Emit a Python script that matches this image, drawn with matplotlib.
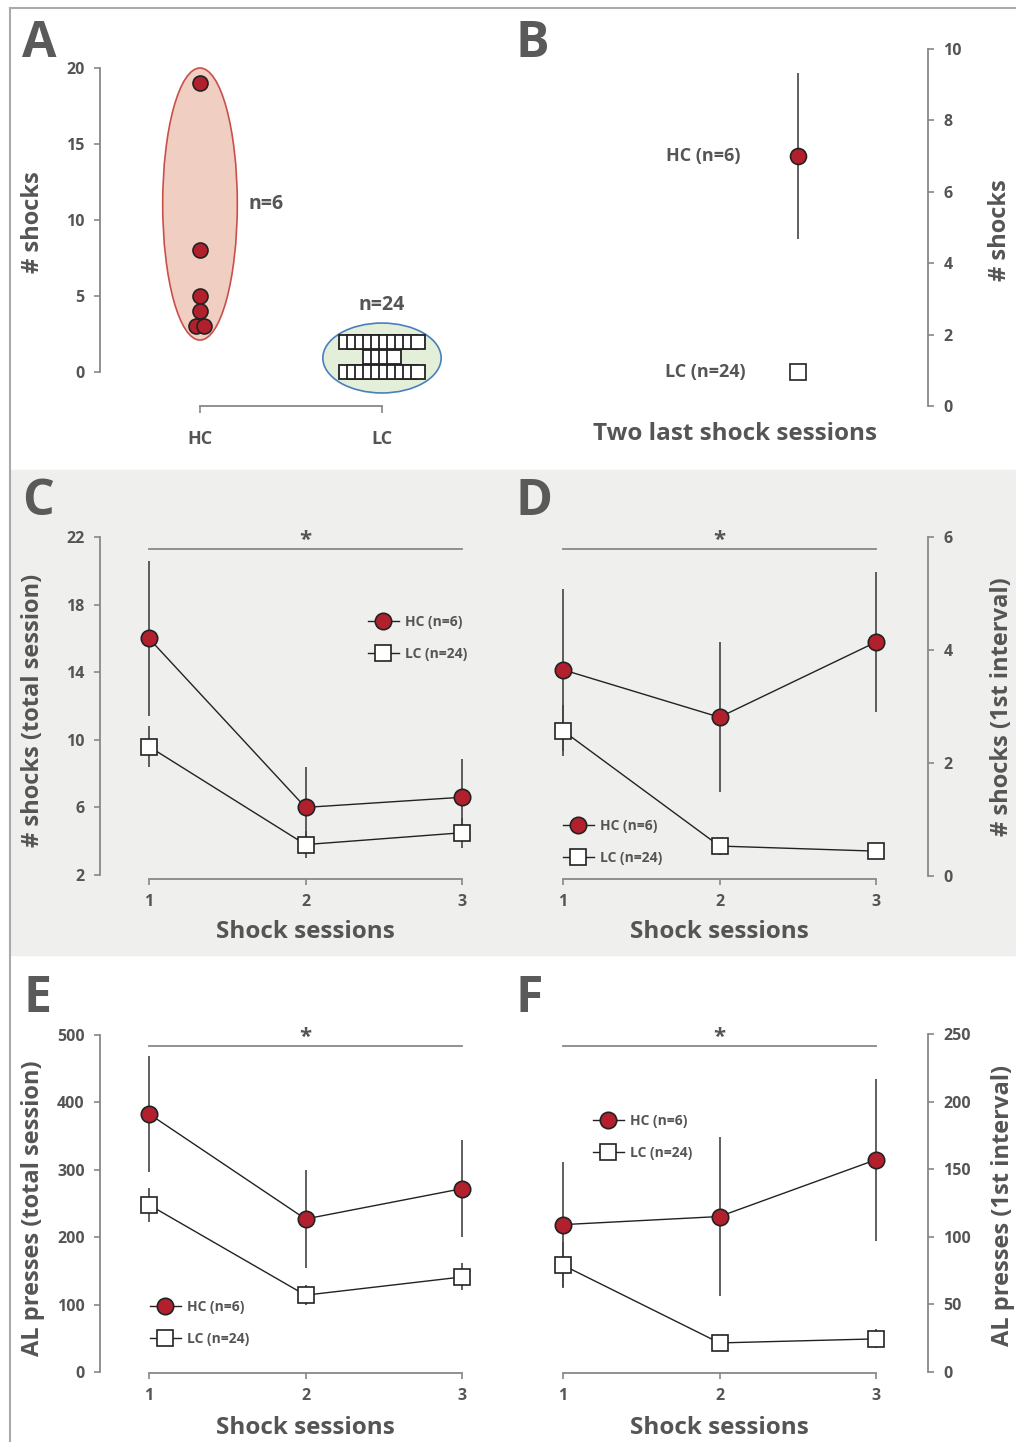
import matplotlib
matplotlib.use("Agg")
import matplotlib.pyplot as plt
import numpy as np
from matplotlib.patches import Ellipse, Rectangle
from matplotlib.lines import Line2D

plt.rcParams['font.family'] = ['Open Sans', 'DejaVu Sans']
plt.rcParams['font.weight'] = 'bold'

# ---- data ----
# A: individual animals, number of shocks
hc_shocks = [19, 8, 5, 4, 3, 3]
lc_shocks = [2, 2, 2, 2, 2, 2, 2, 2, 2, 2,
             1, 1, 1, 1,
             0, 0, 0, 0, 0, 0, 0, 0, 0, 0]

# B: two last shock sessions (mean, sem)
hc_last = 7.0
hc_last_err = 2.33
lc_last = 0.95
lc_last_err = 0.1

sessions = [1, 2, 3]
# C: shocks, total session
hc_tot_shocks = [16.0, 6.0, 6.6]
hc_tot_shocks_err = [4.6, 2.4, 2.25]
lc_tot_shocks = [9.6, 3.8, 4.5]
lc_tot_shocks_err = [1.2, 0.8, 0.9]
# D: shocks, 1st interval
hc_int_shocks = [3.65, 2.81, 4.14]
hc_int_shocks_err = [1.43, 1.33, 1.24]
lc_int_shocks = [2.57, 0.53, 0.44]
lc_int_shocks_err = [0.45, 0.15, 0.08]
# E: AL presses, total session
hc_tot_press = [383, 227, 272]
hc_tot_press_err = [86, 72, 72]
lc_tot_press = [248, 114, 141]
lc_tot_press_err = [25, 15, 20]
# F: AL presses, 1st interval
hc_int_press = [109, 115, 157]
hc_int_press_err = [46, 59, 60]
lc_int_press = [79, 21.5, 24.5]
lc_int_press_err = [17, 3, 7]

RED = '#b2202d'
TXT = '#555555'
AXC = '#888888'

W, H = 1016, 1442
fig = plt.figure(figsize=(W / 100, H / 100), dpi=100)

# grey band behind C and D, frame lines
fig.patches.append(Rectangle((10 / W, 1 - 955 / H), 1 - 10 / W, 485 / H,
                             transform=fig.transFigure, color='#efefed', zorder=-5))
fig.lines.append(Line2D([10 / W, 1], [1 - 8 / H, 1 - 8 / H], transform=fig.transFigure,
                        color='#aaaaaa', lw=1.5, zorder=-4))
fig.lines.append(Line2D([10 / W, 10 / W], [0, 1 - 8 / H], transform=fig.transFigure,
                        color='#aaaaaa', lw=1.5, zorder=-4))


def ftext(px, py, s, **kw):
    kw.setdefault('color', TXT)
    kw.setdefault('fontweight', 'bold')
    fig.text(px / W, 1 - py / H, s, **kw)


def add_ax(left, top, right, bottom, xcal, ycal):
    ax = fig.add_axes([left / W, 1 - bottom / H, (right - left) / W, (bottom - top) / H])
    pa, va, pb, vb = xcal
    s = (vb - va) / (pb - pa)
    ax.set_xlim(va + (left - pa) * s, va + (right - pa) * s)
    pa, va, pb, vb = ycal
    s = (vb - va) / (pb - pa)
    ax.set_ylim(va + (bottom - pa) * s, va + (top - pa) * s)
    ax.patch.set_visible(False)
    for sp in ax.spines.values():
        sp.set_color(AXC)
        sp.set_linewidth(1.3)
    ax.tick_params(direction='out', length=4, width=1.2, color=AXC,
                   labelcolor=TXT, labelsize=11.5, pad=7)
    return ax


def session_axes(ax, yside, ybounds, yticks):
    ax.spines['top'].set_visible(False)
    other = 'right' if yside == 'left' else 'left'
    ax.spines[other].set_visible(False)
    ax.spines[yside].set_bounds(*ybounds)
    ax.spines['bottom'].set_bounds(1, 3)
    ax.set_yticks(yticks)
    ax.set_xticks(sessions)
    ax.tick_params(axis='x', pad=7)
    if yside == 'right':
        ax.yaxis.tick_right()


def draw_groups(ax, hc, hc_err, lc, lc_err):
    ax.errorbar(sessions, hc, yerr=hc_err, fmt='none', ecolor='#444444',
                elinewidth=1.2, capsize=0, zorder=2, clip_on=False)
    ax.errorbar(sessions, lc, yerr=lc_err, fmt='none', ecolor='#444444',
                elinewidth=1.2, capsize=0, zorder=2, clip_on=False)
    h1, = ax.plot(sessions, hc, '-o', color='#222222', lw=1.0, ms=11.8,
                  mfc=RED, mec='#222222', mew=1.2, zorder=3, clip_on=False,
                  label='HC (n=6)')
    h2, = ax.plot(sessions, lc, '-s', color='#222222', lw=1.0, ms=11.8,
                  mfc='white', mec='#222222', mew=1.2, zorder=3, clip_on=False,
                  label='LC (n=24)')
    return h1, h2


def legend_at(ax, handles, px, py):
    ax.legend(handles=handles, loc='center left', frameon=False,
              bbox_to_anchor=(px / W, 1 - py / H), bbox_transform=fig.transFigure,
              borderpad=0, borderaxespad=0, handlelength=2.2, handletextpad=0.45,
              labelspacing=1.25, prop={'size': 10, 'weight': 'bold'}, labelcolor=TXT)


def sig_bar(ax, y):
    ax.plot([1, 3], [y, y], color=AXC, lw=1.3, clip_on=False)
    ax.annotate('*', xy=(2, y), xytext=(0, -2), textcoords='offset pixels',
                ha='center', va='bottom', fontsize=16, color=TXT)


# ---------------- A ----------------
axA = add_ax(100, 40, 480, 406, (200, 1, 382, 2), (372, 0, 68, 20))
axA.spines['top'].set_visible(False)
axA.spines['right'].set_visible(False)
axA.spines['left'].set_bounds(0, 20)
axA.spines['bottom'].set_bounds(1, 2)
axA.set_yticks([0, 5, 10, 15, 20])
axA.set_xticks([1, 2])
axA.set_xticklabels(['HC', 'LC'], fontsize=13)
axA.tick_params(axis='x', length=5, pad=12)

hc_lo, hc_hi = min(hc_shocks), max(hc_shocks)
axA.add_patch(Ellipse((1, (hc_lo + hc_hi) / 2 + 0.05), 0.41, hc_hi - hc_lo + 1.9,
                      facecolor='#f0cfc2', edgecolor='#c9504a', lw=1.2, zorder=1))
lc_lo, lc_hi = min(lc_shocks), max(lc_shocks)
axA.add_patch(Ellipse((2, (lc_lo + lc_hi) / 2 - 0.08), 0.65, lc_hi - lc_lo + 2.6,
                      facecolor='#e3efd8', edgecolor='#4a7fbf', lw=1.2, zorder=1))


def jitter(vals, center, step):
    vals = np.asarray(vals, dtype=float)
    xs = np.zeros_like(vals)
    for v in np.unique(vals):
        idx = np.where(vals == v)[0]
        xs[idx] = center + (np.arange(len(idx)) - (len(idx) - 1) / 2) * step
    return xs


axA.plot(jitter(hc_shocks, 1, 0.044), hc_shocks, 'o', ms=10.8, mfc=RED,
         mec='#222222', mew=1.2, zorder=3)
axA.plot(jitter(lc_shocks, 2, 0.044), lc_shocks, 's', ms=9.6, mfc='white',
         mec='#222222', mew=1.3, zorder=3)
axA.annotate('n=6', xy=(1, (hc_lo + hc_hi) / 2 + 0.05), xytext=(48, 0),
             textcoords='offset pixels', ha='left', va='center', fontsize=14, color=TXT)
axA.annotate('n=24', xy=(2, lc_hi + 1.2), xytext=(0, 18),
             textcoords='offset pixels', ha='center', va='center', fontsize=14, color=TXT)

# ---------------- B ----------------
axB = add_ax(560, 40, 928, 420, (798, 1, 898, 2), (406, 0, 49, 10))
for k in ['top', 'left', 'bottom']:
    axB.spines[k].set_visible(False)
axB.spines['right'].set_bounds(0, 10)
axB.yaxis.tick_right()
axB.set_yticks([0, 2, 4, 6, 8, 10])
axB.set_xticks([])
axB.errorbar([1], [hc_last], yerr=[hc_last_err], fmt='none', ecolor='#444444',
             elinewidth=1.2, capsize=0, zorder=2)
axB.plot([1], [hc_last], 'o', ms=11.5, mfc=RED, mec='#222222', mew=1.2, zorder=3)
axB.plot([1], [lc_last], 's', ms=11.5, mfc='white', mec='#222222', mew=1.2, zorder=3)
axB.annotate('HC (n=6)', xy=(1, hc_last), xytext=(-58, 0), textcoords='offset pixels',
             ha='right', va='center', fontsize=13, color=TXT)
axB.annotate('LC (n=24)', xy=(1, lc_last), xytext=(-52, 0), textcoords='offset pixels',
             ha='right', va='center', fontsize=13, color=TXT)

# ---------------- C ----------------
axC = add_ax(100, 530, 480, 879, (149, 1, 462, 3), (875, 2, 537, 22))
session_axes(axC, 'left', (2, 22), [2, 6, 10, 14, 18, 22])
hC = draw_groups(axC, hc_tot_shocks, hc_tot_shocks_err, lc_tot_shocks, lc_tot_shocks_err)
sig_bar(axC, 21.3)
legend_at(axC, hC, 368, 638)

# ---------------- D ----------------
axD = add_ax(520, 530, 928, 879, (563, 1, 876, 3), (876, 0, 537, 6))
session_axes(axD, 'right', (0, 6), [0, 2, 4, 6])
hD = draw_groups(axD, hc_int_shocks, hc_int_shocks_err, lc_int_shocks, lc_int_shocks_err)
sig_bar(axD, 5.79)
legend_at(axD, hD, 563, 842)

# ---------------- E ----------------
axE = add_ax(100, 1025, 480, 1373, (149, 1, 462, 3), (1372, 0, 1035, 500))
session_axes(axE, 'left', (0, 500), [0, 100, 200, 300, 400, 500])
hE = draw_groups(axE, hc_tot_press, hc_tot_press_err, lc_tot_press, lc_tot_press_err)
sig_bar(axE, 484)
legend_at(axE, hE, 150, 1323)

# ---------------- F ----------------
axF = add_ax(520, 1025, 928, 1373, (563, 1, 876, 3), (1372, 0, 1034, 250))
session_axes(axF, 'right', (0, 250), [0, 50, 100, 150, 200, 250])
hF = draw_groups(axF, hc_int_press, hc_int_press_err, lc_int_press, lc_int_press_err)
sig_bar(axF, 241)
legend_at(axF, hF, 593, 1137)

# axis titles
ftext(33, 222, '# shocks', rotation=90, ha='center', va='center', fontsize=17)
ftext(1000, 230, '# shocks', rotation=90, ha='center', va='center', fontsize=17)
ftext(735, 434, 'Two last shock sessions', ha='center', va='center', fontsize=17.5)
ftext(33, 710, '# shocks (total session)', rotation=90, ha='center', va='center', fontsize=17)
ftext(1002, 707, '# shocks (1st interval)', rotation=90, ha='center', va='center', fontsize=17)
ftext(305, 932, 'Shock sessions', ha='center', va='center', fontsize=17.5)
ftext(719, 932, 'Shock sessions', ha='center', va='center', fontsize=17.5)
ftext(33, 1208, 'AL presses (total session)', rotation=90, ha='center', va='center', fontsize=17)
ftext(1003, 1205, 'AL presses (1st interval)', rotation=90, ha='center', va='center', fontsize=17)
ftext(305, 1428, 'Shock sessions', ha='center', va='center', fontsize=17.5)
ftext(719, 1428, 'Shock sessions', ha='center', va='center', fontsize=17.5)

# panel letters
for letter, px, py in [('A', 22, 57), ('B', 516, 57), ('C', 22, 515),
                       ('D', 516, 515), ('E', 24, 1012), ('F', 516, 1012)]:
    ftext(px, py, letter, ha='left', va='baseline', fontsize=36, color='#5a5a5a')

fig.savefig('out.png', dpi=100)
